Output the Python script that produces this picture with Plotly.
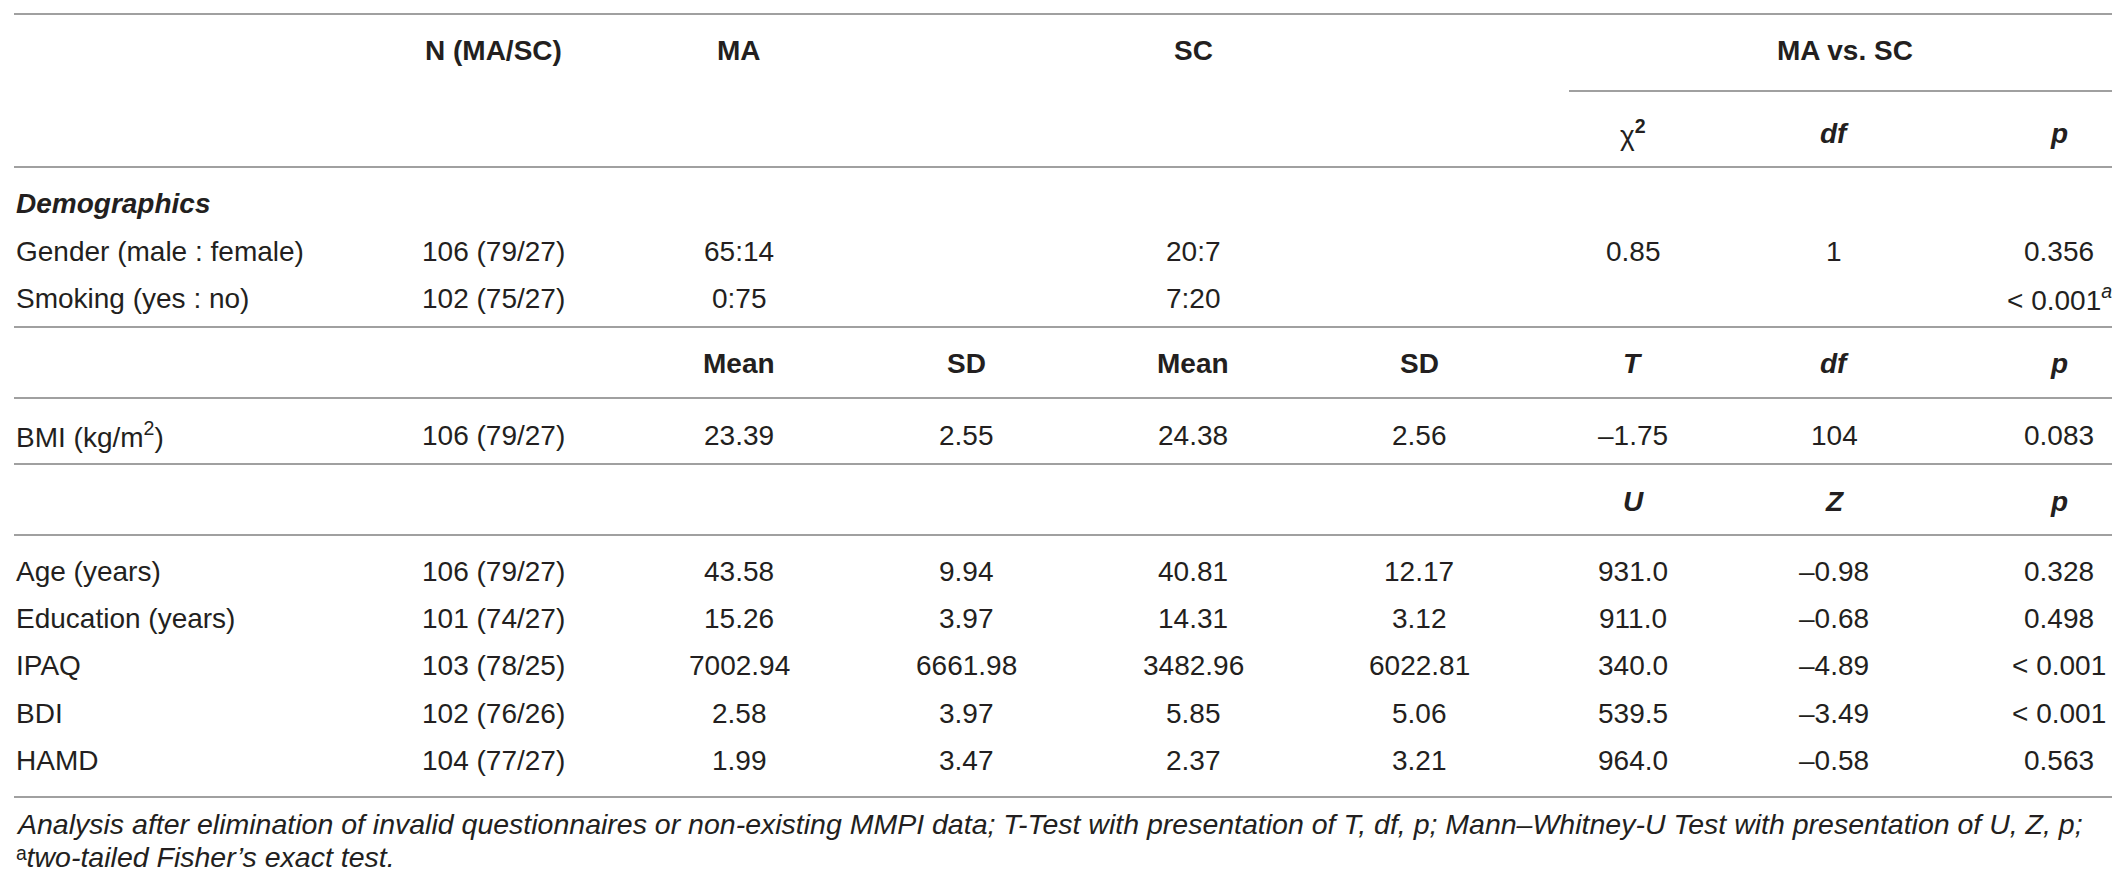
import plotly.graph_objects as go

# ---- table data ----
cat_labels = ["Gender (male : female)", "Smoking (yes : no)"]
cat_n = ["106 (79/27)", "102 (75/27)"]
cat_ma = ["65:14", "0:75"]
cat_sc = ["20:7", "7:20"]
cat_chi2 = ["0.85", ""]
cat_df = ["1", ""]
cat_p = ["0.356", "< 0.001<sup><i>a</i></sup>"]

bmi_label = "BMI (kg/m<sup>2</sup>)"
bmi_n = "106 (79/27)"
bmi_vals = ["23.39", "2.55", "24.38", "2.56", "–1.75", "104", "0.083"]

np_labels = ["Age (years)", "Education (years)", "IPAQ", "BDI", "HAMD"]
np_n = ["106 (79/27)", "101 (74/27)", "103 (78/25)", "102 (76/26)", "104 (77/27)"]
np_ma_mean = ["43.58", "15.26", "7002.94", "2.58", "1.99"]
np_ma_sd = ["9.94", "3.97", "6661.98", "3.97", "3.47"]
np_sc_mean = ["40.81", "14.31", "3482.96", "5.85", "2.37"]
np_sc_sd = ["12.17", "3.12", "6022.81", "5.06", "3.21"]
np_u = ["931.0", "911.0", "340.0", "539.5", "964.0"]
np_z = ["–0.98", "–0.68", "–4.89", "–3.49", "–0.58"]
np_p = ["0.328", "0.498", "< 0.001", "< 0.001", "0.563"]

footnote_1 = ("Analysis after elimination of invalid questionnaires or non-existing MMPI data; "
              "T-Test with presentation of T, df, p; Mann–Whitney-U Test with presentation of U, Z, p;")
footnote_2 = "<span style='font-style:normal'>ᵃ</span>two-tailed Fisher’s exact test."

# ---- layout ----
W, H = 2120, 869
FONT = "Liberation Sans, Arial, DejaVu Sans, sans-serif"
TXT = "#231f20"
LINE = "#a0a0a0"
FS = 28

col_x = {"n": 485, "ma_m": 731, "ma_sd": 958, "sc_m": 1185, "sc_sd": 1411,
         "s1": 1625, "s2": 1826, "p": 2051}
LEFT = 6

annots = []


def cell(x, y, text, anchor="center", bold=False, italic=False, size=FS):
    if text == "":
        return
    if bold:
        text = "<b>" + text + "</b>"
    if italic:
        text = "<i>" + text + "</i>"
    annots.append(dict(x=x, y=y, xref="x", yref="y", text=text, showarrow=False,
                       xanchor=anchor, yanchor="middle",
                       font=dict(family=FONT, size=size, color=TXT)))


# header
cell(col_x["n"], 42, "N (MA/SC)", bold=True)
cell(col_x["ma_m"], 42, "MA", bold=True)
cell(col_x["sc_m"], 42, "SC", bold=True)
cell(1837, 42, "MA vs. SC", bold=True)
cell(col_x["s1"], 125, "χ<sup><b>2</b></sup>")
cell(col_x["s2"], 125, "df", bold=True, italic=True)
cell(col_x["p"], 125, "p", bold=True, italic=True)

# categorical block
cell(LEFT, 195, "Demographics", anchor="left", bold=True, italic=True)
cat_y = [243, 290]
for i, y in enumerate(cat_y):
    cell(LEFT, y, cat_labels[i], anchor="left")
    cell(col_x["n"], y, cat_n[i])
    cell(col_x["ma_m"], y, cat_ma[i])
    cell(col_x["sc_m"], y, cat_sc[i])
    cell(col_x["s1"], y, cat_chi2[i])
    cell(col_x["s2"], y, cat_df[i])
    cell(col_x["p"], y, cat_p[i])

# t-test block
for key, txt in zip(["ma_m", "ma_sd", "sc_m", "sc_sd"], ["Mean", "SD", "Mean", "SD"]):
    cell(col_x[key], 355, txt, bold=True)
cell(col_x["s1"], 355, "T", bold=True, italic=True)
cell(col_x["s2"], 355, "df", bold=True, italic=True)
cell(col_x["p"], 355, "p", bold=True, italic=True)

cell(LEFT, 427, bmi_label, anchor="left")
cell(col_x["n"], 427, bmi_n)
for key, v in zip(["ma_m", "ma_sd", "sc_m", "sc_sd", "s1", "s2", "p"], bmi_vals):
    cell(col_x[key], 427, v)

# Mann-Whitney block
cell(col_x["s1"], 493, "U", bold=True, italic=True)
cell(col_x["s2"], 493, "Z", bold=True, italic=True)
cell(col_x["p"], 493, "p", bold=True, italic=True)
np_y = [563, 610, 657, 705, 752]
for i, y in enumerate(np_y):
    cell(LEFT, y, np_labels[i], anchor="left")
    cell(col_x["n"], y, np_n[i])
    cell(col_x["ma_m"], y, np_ma_mean[i])
    cell(col_x["ma_sd"], y, np_ma_sd[i])
    cell(col_x["sc_m"], y, np_sc_mean[i])
    cell(col_x["sc_sd"], y, np_sc_sd[i])
    cell(col_x["s1"], y, np_u[i])
    cell(col_x["s2"], y, np_z[i])
    cell(col_x["p"], y, np_p[i])

# footnotes
cell(LEFT, 816, footnote_1, anchor="left", italic=True, size=28.5)
cell(LEFT, 849, footnote_2, anchor="left", italic=True, size=28.5)

# rules
shapes = []
for y, x0 in [(6, 6), (83, 1561), (159, 6), (319, 6), (390, 6), (456, 6), (527, 6), (789, 6)]:
    shapes.append(dict(type="line", xref="x", yref="y", x0=x0, x1=2116, y0=y, y1=y,
                       line=dict(color=LINE, width=2)))

fig = go.Figure()
fig.update_layout(
    width=W, height=H,
    margin=dict(l=0, r=0, t=0, b=0),
    paper_bgcolor="white", plot_bgcolor="white",
    xaxis=dict(range=[0, W], visible=False, fixedrange=True),
    yaxis=dict(range=[H, 0], visible=False, fixedrange=True),
    annotations=annots, shapes=shapes, showlegend=False,
)
fig.write_html("out.html")
